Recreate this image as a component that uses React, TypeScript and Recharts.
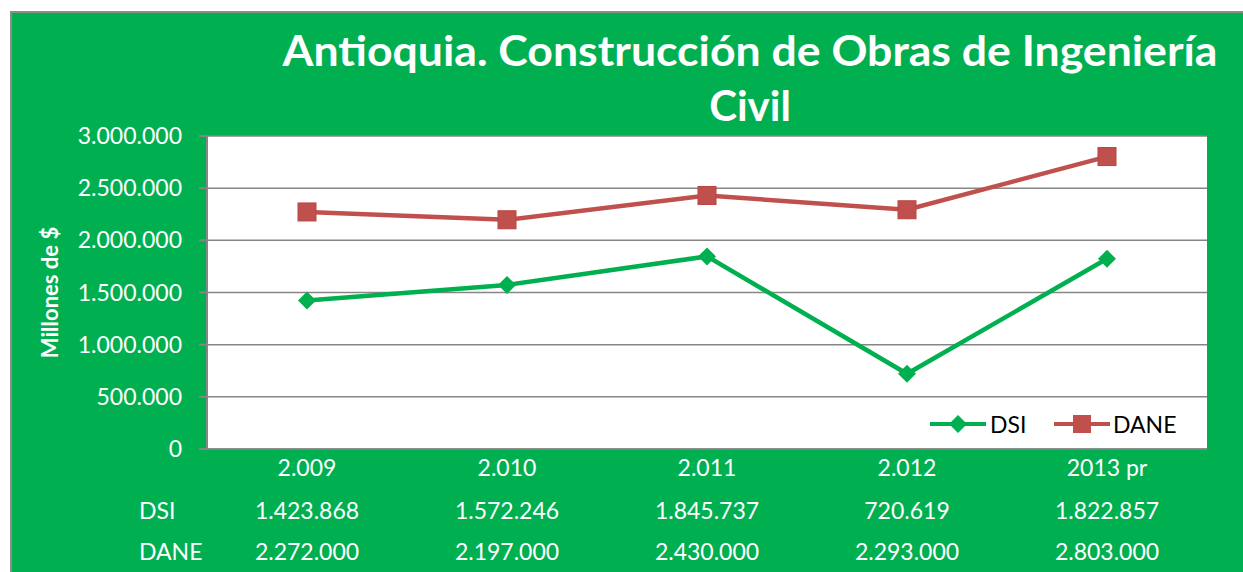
import { LineChart, Line, XAxis, YAxis, CartesianGrid, Customized } from "recharts";

const years = ["2.009", "2.010", "2.011", "2.012", "2013 pr"];
const dsi = [1423868, 1572246, 1845737, 720619, 1822857];
const dane = [2272000, 2197000, 2430000, 2293000, 2803000];
const yTicks = [0, 500000, 1000000, 1500000, 2000000, 2500000, 3000000];

const GREEN = "#00B050";
const RED = "#C0504D";
const GRID = "#868686";
const FONT = "Lato, 'Open Sans', sans-serif";

const data = years.map((year, i) => ({ year, dsi: dsi[i], dane: dane[i] }));

const fmt = (v: number) => String(v).replace(/\B(?=(\d{3})+(?!\d))/g, ".");

function Diamond(props: any) {
  const { cx, cy } = props;
  if (cx == null || cy == null) return null;
  const r = 9;
  return <path d={`M${cx},${cy - r}L${cx + r},${cy}L${cx},${cy + r}L${cx - r},${cy}Z`} fill={GREEN} />;
}

function Square(props: any) {
  const { cx, cy } = props;
  if (cx == null || cy == null) return null;
  const s = 9;
  return <rect x={cx - s} y={cy - s} width={s * 2} height={s * 2} fill={RED} stroke="#b8443f" strokeWidth={1} />;
}

// category label plus the data table rows under it
function TableTick(props: any) {
  const { x, y, payload } = props;
  const i = payload.index;
  const style = { fill: "#fff", fontSize: 23, fontFamily: FONT };
  return (
    <g>
      <text x={x} y={y + 10} textAnchor="middle" dominantBaseline="central" {...style}>{payload.value}</text>
      <text x={x} y={y + 53} textAnchor="middle" dominantBaseline="central" {...style}>{fmt(dsi[i])}</text>
      <text x={x} y={y + 94} textAnchor="middle" dominantBaseline="central" {...style}>{fmt(dane[i])}</text>
      {i === 0 && (
        <>
          <text x={x - 168} y={y + 53} textAnchor="start" dominantBaseline="central" {...style}>DSI</text>
          <text x={x - 168} y={y + 94} textAnchor="start" dominantBaseline="central" {...style}>DANE</text>
        </>
      )}
    </g>
  );
}

function LegendBox() {
  const t = { dominantBaseline: "central" as const, fontSize: 23, fontFamily: FONT, fill: "#000" };
  return (
    <g transform="translate(918, 411)">
      <line x1={0} y1={0} x2={56} y2={0} stroke={GREEN} strokeWidth={4} />
      <path d="M28,-9L37,0L28,9L19,0Z" fill={GREEN} />
      <text x={60} y={0} {...t}>DSI</text>
      <line x1={124} y1={0} x2={180} y2={0} stroke={RED} strokeWidth={4} />
      <rect x={143} y={-9} width={18} height={18} fill={RED} />
      <text x={183} y={0} {...t}>DANE</text>
    </g>
  );
}

function Title() {
  return (
    <g fill="#fff" fontFamily={FONT} fontWeight={700} fontSize={42}>
      <text x={738} y={37} textAnchor="middle" dominantBaseline="central" textLength={935} lengthAdjust="spacingAndGlyphs">
        Antioquia. Construcción de Obras de Ingeniería
      </text>
      <text x={738} y={92} textAnchor="middle" dominantBaseline="central">Civil</text>
    </g>
  );
}

export default function App() {
  return (
    <div
      style={{
        position: "absolute",
        left: 10,
        top: 11,
        width: 1233,
        height: 561,
        boxSizing: "border-box",
        background: GREEN,
        borderLeft: "2px solid #8c8c8c",
        borderTop: "2px solid #8c8c8c",
      }}
    >
      <LineChart width={1231} height={559} data={data} margin={{ top: 123, right: 36, left: 0, bottom: 0 }}>
        <CartesianGrid vertical={false} stroke={GRID} strokeWidth={1.5} fill="#fff" fillOpacity={1} />
        <XAxis
          dataKey="year"
          height={123}
          padding={{ left: 100, right: 100 }}
          axisLine={{ stroke: GRID, strokeWidth: 1.5 }}
          tickLine={false}
          tick={<TableTick />}
          interval={0}
        />
        <YAxis
          width={195}
          domain={[0, 3000000]}
          ticks={yTicks}
          tickFormatter={fmt}
          axisLine={{ stroke: GRID, strokeWidth: 2 }}
          tickLine={{ stroke: GRID, strokeWidth: 2 }}
          tickSize={8}
          tickMargin={17}
          tick={{ fill: "#fff", fontSize: 23, fontFamily: FONT }}
          label={{
            value: "Millones de $",
            angle: -90,
            position: "insideLeft",
            offset: 38,
            style: { fill: "#fff", fontSize: 22, fontWeight: 700, fontFamily: FONT, textAnchor: "middle" },
          }}
        />
        <Line
          dataKey="dsi"
          name="DSI"
          stroke={GREEN}
          strokeWidth={4.5}
          dot={<Diamond />}
          activeDot={false}
          isAnimationActive={false}
        />
        <Line
          dataKey="dane"
          name="DANE"
          stroke={RED}
          strokeWidth={4.5}
          dot={<Square />}
          activeDot={false}
          isAnimationActive={false}
        />
        <Customized component={<LegendBox />} />
        <Customized component={<Title />} />
      </LineChart>
    </div>
  );
}
